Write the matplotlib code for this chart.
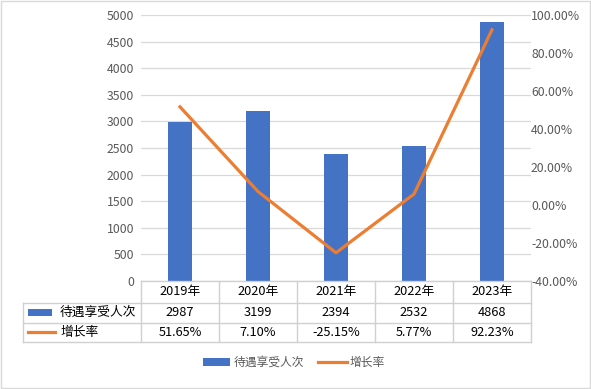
import matplotlib.pyplot as plt
from matplotlib.patches import Rectangle
from matplotlib.lines import Line2D
from matplotlib.ticker import FuncFormatter

plt.rcParams['font.family'] = ['Noto Sans CJK SC', 'DejaVu Sans']

# data
years = ['2019年', '2020年', '2021年', '2022年', '2023年']
counts = [2987, 3199, 2394, 2532, 4868]
growth = [51.65, 7.10, -25.15, 5.77, 92.23]
bar_name = '待遇享受人次'
line_name = '增长率'

blue = '#4472C4'
orange = '#ED7D31'
grid_c = '#D9D9D9'
txt_c = '#595959'

W, H = 591, 389
fig = plt.figure(figsize=(W / 100, H / 100), dpi=100)

def fx(px):
    return px / W

def fy(py):
    return 1 - py / H

# chart border
fig.add_artist(Rectangle((fx(1), fy(388)), fx(589), 1 - 2 / H, transform=fig.transFigure,
                         fill=False, edgecolor=grid_c, lw=1))

ax = fig.add_axes([fx(141), fy(281), fx(531) - fx(141), fy(15) - fy(281)])
x = list(range(len(years)))
ax.bar(x, counts, width=0.3, color=blue, zorder=3)
ax.set_xlim(-0.5, 4.5)
ax.set_ylim(0, 5000)
ax.set_yticks(range(0, 5001, 500))
ax.grid(axis='y', color=grid_c, lw=0.9, zorder=0)
ax.set_xticks([])
for s in ax.spines.values():
    s.set_visible(False)
ax.tick_params(axis='y', length=0, labelsize=8.8, labelcolor=txt_c, pad=5)

ax2 = ax.twinx()
ax2.plot(x, growth, color=orange, lw=2.3, zorder=4)
ax2.set_ylim(-40, 100)
ax2.set_yticks(range(-40, 101, 20))
ax2.yaxis.set_major_formatter(FuncFormatter(lambda v, p: f'{v:.2f}%'))
for s in ax2.spines.values():
    s.set_visible(False)
ax2.tick_params(axis='y', length=0, labelsize=8.8, labelcolor=txt_c, pad=0)

# data table
tbl_c = '#D0D0D0'
rows_y = [281, 303, 322.5, 342]
col_px = [141 + 78 * i for i in range(6)]
fs = 9.2

def hline(py, x0, x1):
    fig.add_artist(Line2D([fx(x0), fx(x1)], [fy(py), fy(py)], transform=fig.transFigure,
                          color=tbl_c, lw=1))

def vline(px, y0, y1):
    fig.add_artist(Line2D([fx(px), fx(px)], [fy(y0), fy(y1)], transform=fig.transFigure,
                          color=tbl_c, lw=1))

hline(rows_y[0], col_px[0], col_px[-1])
for r in rows_y[1:]:
    hline(r, 23, col_px[-1])
for c in col_px:
    vline(c, rows_y[0], rows_y[-1])
vline(23, rows_y[1], rows_y[-1])

for i in range(len(years)):
    cx = fx((col_px[i] + col_px[i + 1]) / 2)
    fig.text(cx, fy((rows_y[0] + rows_y[1]) / 2), years[i], ha='center', va='center', fontsize=fs)
    fig.text(cx, fy((rows_y[1] + rows_y[2]) / 2), str(counts[i]), ha='center', va='center', fontsize=fs)
    fig.text(cx, fy((rows_y[2] + rows_y[3]) / 2), f'{growth[i]:.2f}%', ha='center', va='center', fontsize=fs)

# legend keys inside table
fig.add_artist(Rectangle((fx(28), fy(316)), fx(24), fy(309) - fy(316), transform=fig.transFigure,
                         color=blue, lw=0))
fig.text(fx(60), fy((rows_y[1] + rows_y[2]) / 2), bar_name, ha='left', va='center', fontsize=fs)
fig.add_artist(Line2D([fx(28), fx(55)], [fy(332), fy(332)], transform=fig.transFigure,
                      color=orange, lw=2.3))
fig.text(fx(60), fy((rows_y[2] + rows_y[3]) / 2), line_name, ha='left', va='center', fontsize=fs)

# bottom legend
fig.add_artist(Rectangle((fx(203), fy(366)), fx(27), fy(358) - fy(366), transform=fig.transFigure,
                         color=blue, lw=0))
fig.text(fx(234), fy(362), bar_name, ha='left', va='center', fontsize=8.5, color=txt_c)
fig.add_artist(Line2D([fx(318), fx(347)], [fy(362), fy(362)], transform=fig.transFigure,
                      color=orange, lw=2.3))
fig.text(fx(350), fy(362), line_name, ha='left', va='center', fontsize=8.5, color=txt_c)

fig.savefig('out.png', dpi=100)
